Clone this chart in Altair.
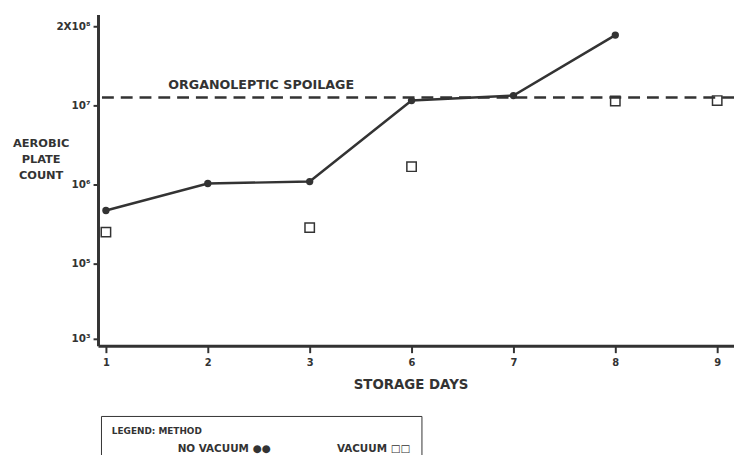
import altair as alt
import pandas as pd

# ---- data ----
days = ["1", "2", "3", "6", "7", "8", "9"]
no_vac_days = ["1", "2", "3", "6", "7", "8"]
no_vac_counts = [4.7e5, 1.03e6, 1.09e6, 1.2e7, 1.45e7, 1.43e8]
vac_days = ["1", "3", "6", "8", "9"]
vac_counts = [2.5e5, 2.85e5, 1.68e6, 1.18e7, 1.2e7]
methods = ["NO VACUUM", "VACUUM"]
method_glyphs = ["NO VACUUM ●●", "VACUUM □□"]
spoilage_level = 1.35e7
spoilage_label = "ORGANOLEPTIC SPOILAGE"
y_tick_values = [1e3, 1e5, 1e6, 1e7, 2e8]
y_tick_labels = ["10³", "10⁵", "10⁶", "10⁷", "2X10⁸"]
y_title = ["AEROBIC", "PLATE", "COUNT"]
x_title = "STORAGE DAYS"
legend_title = "LEGEND: METHOD"

INK = "#333333"
FONT = "DejaVu Sans"

no_vac_df = pd.DataFrame({"day": no_vac_days, "count": no_vac_counts, "method": methods[0]})
vac_df = pd.DataFrame({"day": vac_days, "count": vac_counts, "method": methods[1]})
spoil_df = pd.DataFrame({"day": [days[0]], "count": [spoilage_level], "label": [spoilage_label]})

# piecewise scale mirroring the unevenly spaced axis of the original
y_domain = [650] + y_tick_values + [3.1e8]
y_range = [335, 328, 252, 172, 92, 12, 0]
y_scale = alt.Scale(type="log", domain=y_domain, range=y_range, nice=False, zero=False)
x_scale = alt.Scale(type="point", domain=days, padding=0.1214, align=0.32)

label_expr = ""
for v, l in zip(y_tick_values, y_tick_labels):
    label_expr += f"datum.value == {v:.0f} ? '{l}' : "
label_expr += "''"

legend_expr = f"datum.label == '{methods[0]}' ? '{method_glyphs[0]}' : '{method_glyphs[1]}'"

x_enc = alt.X(
    "day:O",
    sort=days,
    scale=x_scale,
    axis=alt.Axis(
        title=x_title,
        labelAngle=0,
        domainWidth=3,
        domainColor=INK,
        tickColor=INK,
        tickWidth=2,
        tickSize=7,
        labelPadding=5,
        labelFontSize=10,
        labelFontWeight="bold",
        labelColor=INK,
        titleFontSize=13.5,
        titleFontWeight="bold",
        titleColor=INK,
        titleX=316,
        titleY=39,
        titleBaseline="middle",
    ),
)
y_enc = alt.Y(
    "count:Q",
    scale=y_scale,
    axis=alt.Axis(
        values=y_tick_values,
        labelExpr=label_expr,
        title=y_title,
        titleAngle=0,
        titleX=-58,
        titleY=131,
        titleAlign="center",
        titleBaseline="middle",
        titleLineHeight=16,
        titleFontSize=11.5,
        titleFontWeight="bold",
        titleColor=INK,
        domainWidth=3,
        domainColor=INK,
        tickColor=INK,
        tickWidth=2,
        tickSize=5,
        labelPadding=3,
        labelFontSize=10.5,
        labelFontWeight="bold",
        labelColor=INK,
    ),
)

shape_legend = alt.Legend(
    title=legend_title,
    orient="none",
    legendX=3,
    legendY=406,
    direction="horizontal",
    labelExpr=legend_expr,
    labelLimit=300,
    symbolOpacity=0,
    symbolSize=1,
    labelOffset=56,
    columnPadding=0,
    padding=11,
    strokeColor=INK,
    titleFontSize=9,
    titleFontWeight="bold",
    titleColor=INK,
    titlePadding=8,
    labelFontSize=10.5,
    labelFontWeight="bold",
    labelColor=INK,
)
shape_scale = alt.Scale(domain=methods, range=["circle", "square"])

spoil_rule = alt.Chart(spoil_df).mark_rule(
    color=INK, strokeWidth=2.5, strokeDash=[12, 7]
).encode(y=alt.Y("count:Q", scale=y_scale))

spoil_text = alt.Chart(spoil_df).mark_text(
    align="left", baseline="alphabetic", dx=63, dy=-9,
    font=FONT, fontSize=12.8, fontWeight="bold", color=INK,
).encode(x=alt.X("day:O", sort=days), y="count:Q", text="label:N")

line = alt.Chart(no_vac_df).mark_line(color=INK, strokeWidth=2.5).encode(x=x_enc, y=y_enc)

circles = alt.Chart(no_vac_df).mark_point(
    filled=True, opacity=1, size=55, color=INK
).encode(
    x=alt.X("day:O", sort=days),
    y="count:Q",
    shape=alt.Shape("method:N", scale=shape_scale, legend=shape_legend),
)

squares = alt.Chart(vac_df).mark_point(
    filled=False, opacity=1, size=90, color=INK, strokeWidth=1.5
).encode(
    x=alt.X("day:O", sort=days),
    y="count:Q",
    shape=alt.Shape("method:N", scale=shape_scale, legend=shape_legend),
)

chart = (
    alt.layer(spoil_rule, line, circles, squares, spoil_text)
    .properties(
        width=643,
        height=335,
        autosize=alt.AutoSizeParams(type="none"),
        padding={"left": 91, "top": 4, "right": 0, "bottom": 108},
    )
    .configure_view(stroke=None)
    .configure_axis(grid=False, labelFont=FONT, titleFont=FONT)
    .configure_legend(labelFont=FONT, titleFont=FONT)
    .configure_text(font=FONT)
)

chart.save("out.html", embed_options={"renderer": "svg", "actions": False})
